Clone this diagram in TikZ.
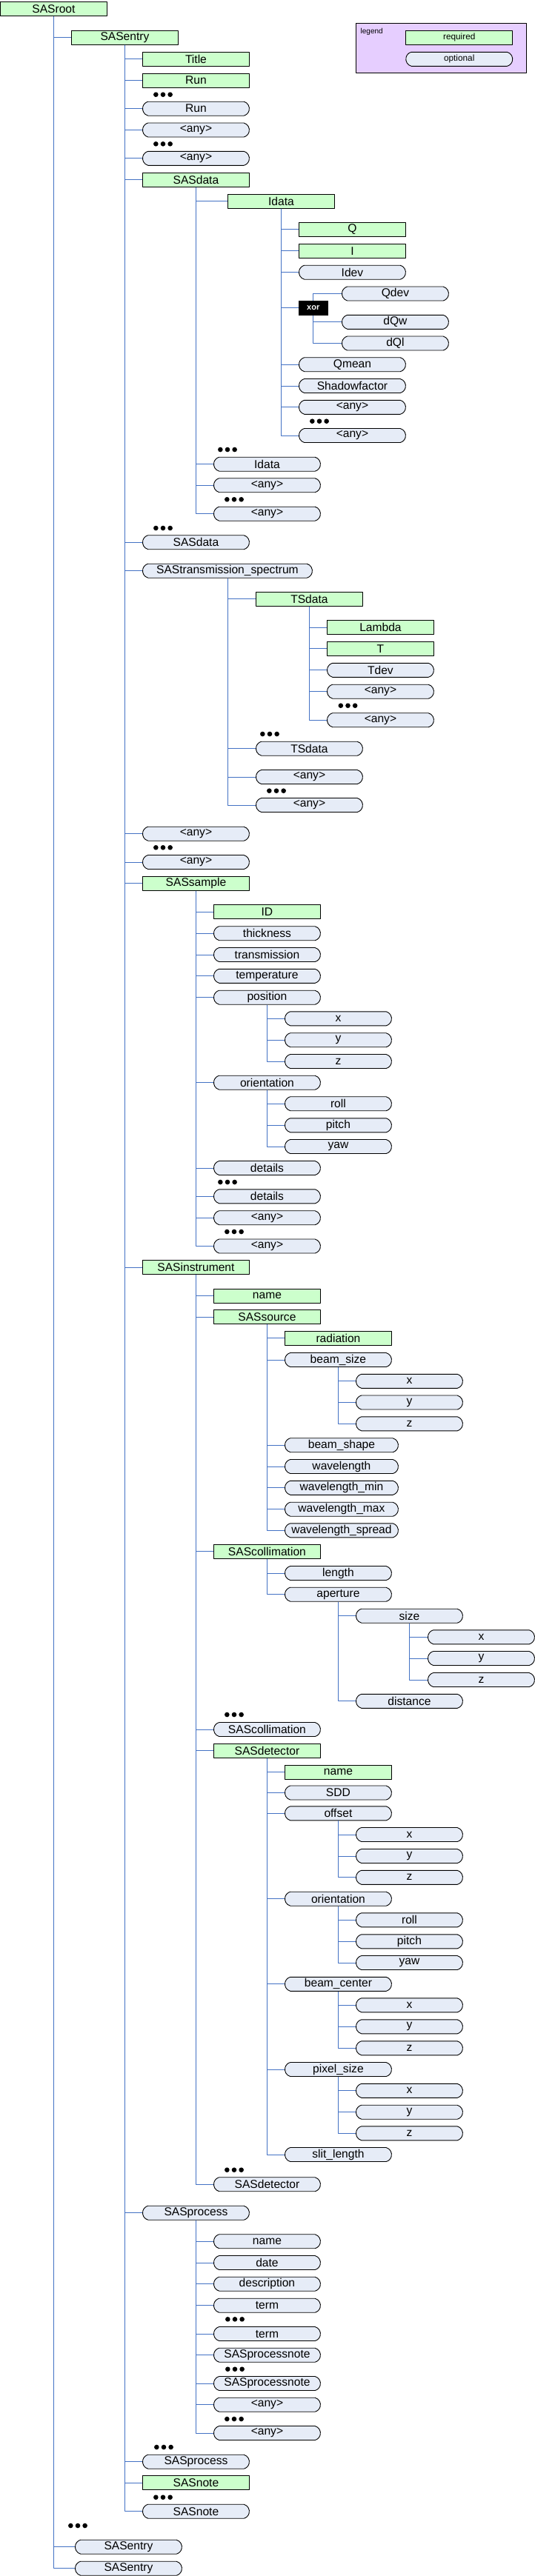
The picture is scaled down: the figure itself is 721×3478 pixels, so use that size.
\documentclass[tikz,border=0pt]{standalone}
\usepackage{fontspec}
\setmainfont{Liberation Sans}
\usetikzlibrary{shapes.misc}
\definecolor{reqgreen}{RGB}{204,255,204}
\definecolor{optblue}{RGB}{230,236,247}
\definecolor{linkblue}{RGB}{68,114,196}
\definecolor{legendlilac}{RGB}{230,206,255}

\begin{document}
\begin{tikzpicture}[x=1pt,y=-1pt,line join=round,
  every node/.style={inner sep=0pt,anchor=west,font=\fontsize{15.6}{18}\selectfont},
  reqbox/.style={draw=black,line width=0.9pt,fill=reqgreen,minimum width=144pt,minimum height=19pt},
  optbox/.style={draw=black,line width=0.9pt,fill=optblue,rounded rectangle,rounded rectangle arc length=150,minimum width=144pt,minimum height=19pt},
  xorbox/.style={fill=black,text=white,minimum width=39.5pt,minimum height=19.7pt,font=\fontsize{11}{13}\selectfont\bfseries},
  link/.style={draw=linkblue,line width=0.9pt}]
  \useasboundingbox (0,0) rectangle (721,3478);

  % legend
  \draw[line width=0.9pt,fill=legendlilac] (480,31.7) rectangle (710,98.3);
  \node[font=\fontsize{10}{12}\selectfont] (legend) at (486.5,43) {legend};
  \node[reqbox,font=\fontsize{11.8}{14}\selectfont] (legreq) at (547.3,50.8) {required};
  \node[optbox,font=\fontsize{11.8}{14}\selectfont] (legopt) at (547.3,79.8) {optional};

  \node[reqbox] (root) at (0,12.3) {SASroot};
  \node[reqbox] (entry) at (96,50.8) {SASentry};
  \node[optbox] (entryB) at (101,3438.7) {SASentry};
  \node[optbox] (entryC) at (101,3467.7) {SASentry};

  \node[reqbox] (title) at (192,79.8) {Title};
  \node[reqbox] (run) at (192,108.5) {Run};
  \node[optbox] (runB) at (192,146.7) {Run};
  \node[optbox] (anyA) at (192,175.5) {<any>};
  \node[optbox] (anyB) at (192,213.8) {<any>};
  \node[reqbox] (data) at (192,242.8) {SASdata};
  \node[optbox] (dataB) at (192,732.2) {SASdata};
  \node[optbox,minimum width=229pt] (trans) at (192,770.7) {SAStransmission\_spectrum};
  \node[optbox] (anyC) at (192,1125.7) {<any>};
  \node[optbox] (anyD) at (192,1164) {<any>};
  \node[reqbox] (sample) at (192,1192.8) {SASsample};
  \node[reqbox] (instr) at (192,1711) {SASinstrument};
  \node[optbox] (process) at (192,2987.7) {SASprocess};
  \node[optbox] (processB) at (192,3323.7) {SASprocess};
  \node[reqbox] (note) at (192,3352.3) {SASnote};
  \node[optbox] (noteB) at (192,3390.7) {SASnote};

  \node[reqbox] (idata) at (307,271.7) {Idata};
  \node[optbox] (idataB) at (288,626.7) {Idata};
  \node[optbox] (dtAnyA) at (288,655.2) {<any>};
  \node[optbox] (dtAnyB) at (288,693.7) {<any>};

  \node[reqbox] (q) at (403,309.8) {Q};
  \node[reqbox] (i) at (403,338.8) {I};
  \node[optbox] (idev) at (403,367.7) {Idev};
  \node[xorbox] (xor) at (402.8,415.8) {xor};
  \node[optbox] (qmean) at (403,492.2) {Qmean};
  \node[optbox] (shadow) at (403,521) {Shadowfactor};
  \node[optbox] (idAnyA) at (403,549.8) {<any>};
  \node[optbox] (idAnyB) at (403,588) {<any>};

  \node[optbox] (qdev) at (461,396.5) {Qdev};
  \node[optbox] (dqw) at (461,434.8) {dQw};
  \node[optbox] (dql) at (461,463.5) {dQl};

  \node[reqbox] (ts) at (345,808.7) {TSdata};
  \node[optbox] (tsB) at (345,1010.7) {TSdata};
  \node[optbox] (trAnyA) at (345,1049) {<any>};
  \node[optbox] (trAnyB) at (345,1087) {<any>};

  \node[reqbox] (lambda) at (441,847.3) {Lambda};
  \node[reqbox] (t) at (441,875.8) {T};
  \node[optbox] (tdev) at (441,904.8) {Tdev};
  \node[optbox] (tsAnyA) at (441,933.7) {<any>};
  \node[optbox] (tsAnyB) at (441,972.2) {<any>};

  \node[reqbox] (id) at (288,1231.3) {ID};
  \node[optbox] (thick) at (288,1260.2) {thickness};
  \node[optbox] (transm) at (288,1289) {transmission};
  \node[optbox] (temp) at (288,1317.8) {temperature};
  \node[optbox] (pos) at (288,1346.7) {position};
  \node[optbox] (orient) at (288,1461.7) {orientation};
  \node[optbox] (details) at (288,1577) {details};
  \node[optbox] (detailsB) at (288,1615.3) {details};
  \node[optbox] (smAnyA) at (288,1644.2) {<any>};
  \node[optbox] (smAnyB) at (288,1682.5) {<any>};

  \node[optbox] (posx) at (384,1375.3) {x};
  \node[optbox] (posy) at (384,1404.2) {y};
  \node[optbox] (posz) at (384,1433) {z};
  \node[optbox] (roll) at (384,1490.2) {roll};
  \node[optbox] (pitch) at (384,1519.3) {pitch};
  \node[optbox] (yaw) at (384,1548) {yaw};

  \node[reqbox] (iname) at (288,1749.8) {name};
  \node[reqbox] (source) at (288,1778.2) {SASsource};
  \node[reqbox] (coll) at (288,2094.8) {SAScollimation};
  \node[optbox] (collB) at (288,2335) {SAScollimation};
  \node[reqbox] (det) at (288,2363.8) {SASdetector};
  \node[optbox] (detB) at (288,2949.2) {SASdetector};

  \node[reqbox] (radiation) at (384,1806.8) {radiation};
  \node[optbox] (bsize) at (384,1836) {beam\_size};
  \node[optbox,minimum width=153pt] (bshape) at (384,1951.2) {beam\_shape};
  \node[optbox,minimum width=153pt] (wl) at (384,1980) {wavelength};
  \node[optbox,minimum width=153pt] (wlmin) at (384,2008.8) {wavelength\_min};
  \node[optbox,minimum width=153pt] (wlmax) at (384,2037.7) {wavelength\_max};
  \node[optbox,minimum width=153pt] (wlspread) at (384,2066.3) {wavelength\_spread};

  \node[optbox] (bsx) at (480,1864.8) {x};
  \node[optbox] (bsy) at (480,1893.5) {y};
  \node[optbox] (bsz) at (480,1922.3) {z};

  \node[optbox] (length) at (384,2124) {length};
  \node[optbox] (aperture) at (384,2152.7) {aperture};
  \node[optbox] (size) at (480,2181.7) {size};
  \node[optbox] (distance) at (480,2296.8) {distance};
  \node[optbox] (szx) at (577,2210.3) {x};
  \node[optbox] (szy) at (577,2239) {y};
  \node[optbox] (szz) at (577,2268) {z};

  \node[reqbox] (dname) at (384,2392.8) {name};
  \node[optbox] (sdd) at (384,2420.5) {SDD};
  \node[optbox] (offset) at (384,2448.3) {offset};
  \node[optbox] (dorient) at (384,2563.7) {orientation};
  \node[optbox] (bcenter) at (384,2678.8) {beam\_center};
  \node[optbox] (psize) at (384,2794) {pixel\_size};
  \node[optbox] (slit) at (384,2909) {slit\_length};

  \node[optbox] (ofx) at (480,2477) {x};
  \node[optbox] (ofy) at (480,2506) {y};
  \node[optbox] (ofz) at (480,2534.8) {z};
  \node[optbox] (droll) at (480,2592.3) {roll};
  \node[optbox] (dpitch) at (480,2621.3) {pitch};
  \node[optbox] (dyaw) at (480,2650) {yaw};
  \node[optbox] (bcx) at (480,2707.3) {x};
  \node[optbox] (bcy) at (480,2736.3) {y};
  \node[optbox] (bcz) at (480,2765.3) {z};
  \node[optbox] (psx) at (480,2822.8) {x};
  \node[optbox] (psy) at (480,2851.7) {y};
  \node[optbox] (psz) at (480,2880.3) {z};

  \node[optbox] (pname) at (288,3026.2) {name};
  \node[optbox] (date) at (288,3055) {date};
  \node[optbox] (descr) at (288,3083.7) {description};
  \node[optbox] (term) at (288,3112.7) {term};
  \node[optbox] (termB) at (288,3151) {term};
  \node[optbox] (pnote) at (288,3179.7) {SASprocessnote};
  \node[optbox] (pnoteB) at (288,3218) {SASprocessnote};
  \node[optbox] (prAnyA) at (288,3246.7) {<any>};
  \node[optbox] (prAnyB) at (288,3285) {<any>};

  % connectors
  \foreach \c in {entry,entryB,entryC}
    \draw[link] (root.south) |- (\c.west);
  \foreach \c in {title,run,runB,anyA,anyB,data,dataB,trans,anyC,anyD,sample,instr,process,processB,note,noteB}
    \draw[link] (entry.south) |- (\c.west);
  \foreach \c in {idata,idataB,dtAnyA,dtAnyB}
    \draw[link] (data.south) |- (\c.west);
  \foreach \c in {q,i,idev,xor,qmean,shadow,idAnyA,idAnyB}
    \draw[link] (idata.south) |- (\c.west);
  \draw[link] (xor.north) |- (qdev.west);
  \foreach \c in {dqw,dql}
    \draw[link] (xor.south) |- (\c.west);
  \foreach \c in {ts,tsB,trAnyA,trAnyB}
    \draw[link] (trans.south) |- (\c.west);
  \foreach \c in {lambda,t,tdev,tsAnyA,tsAnyB}
    \draw[link] (ts.south) |- (\c.west);
  \foreach \c in {id,thick,transm,temp,pos,orient,details,detailsB,smAnyA,smAnyB}
    \draw[link] (sample.south) |- (\c.west);
  \foreach \c in {posx,posy,posz}
    \draw[link] (pos.south) |- (\c.west);
  \foreach \c in {roll,pitch,yaw}
    \draw[link] (orient.south) |- (\c.west);
  \foreach \c in {iname,source,coll,collB,det,detB}
    \draw[link] (instr.south) |- (\c.west);
  \foreach \c in {radiation,bsize,bshape,wl,wlmin,wlmax,wlspread}
    \draw[link] (source.south) |- (\c.west);
  \foreach \c in {bsx,bsy,bsz}
    \draw[link] (bsize.south) |- (\c.west);
  \foreach \c in {length,aperture}
    \draw[link] (coll.south) |- (\c.west);
  \foreach \c in {size,distance}
    \draw[link] (aperture.south) |- (\c.west);
  \foreach \c in {szx,szy,szz}
    \draw[link] (size.south) |- (\c.west);
  \foreach \c in {dname,sdd,offset,dorient,bcenter,psize,slit}
    \draw[link] (det.south) |- (\c.west);
  \foreach \c in {ofx,ofy,ofz}
    \draw[link] (offset.south) |- (\c.west);
  \foreach \c in {droll,dpitch,dyaw}
    \draw[link] (dorient.south) |- (\c.west);
  \foreach \c in {bcx,bcy,bcz}
    \draw[link] (bcenter.south) |- (\c.west);
  \foreach \c in {psx,psy,psz}
    \draw[link] (psize.south) |- (\c.west);
  \foreach \c in {pname,date,descr,term,termB,pnote,pnoteB,prAnyA,prAnyB}
    \draw[link] (process.south) |- (\c.west);

  % repetition dots
  \foreach \dx/\dy in {207/127.7,207/194.3,418/568.7,294/607,303/674.3,207/713,456.5/952.7,
      351/991,360/1067.7,207/1144.3,294/1596,303/1663,303/2315,303/2929.7,304/3131.3,
      304/3198.7,303/3266,208/3304,207/3371.7,92/3410}
    \foreach \k in {0,1,2}
      \fill (\dx+3.35+9.65*\k,\dy) circle[radius=3.3];
\end{tikzpicture}
\end{document}
